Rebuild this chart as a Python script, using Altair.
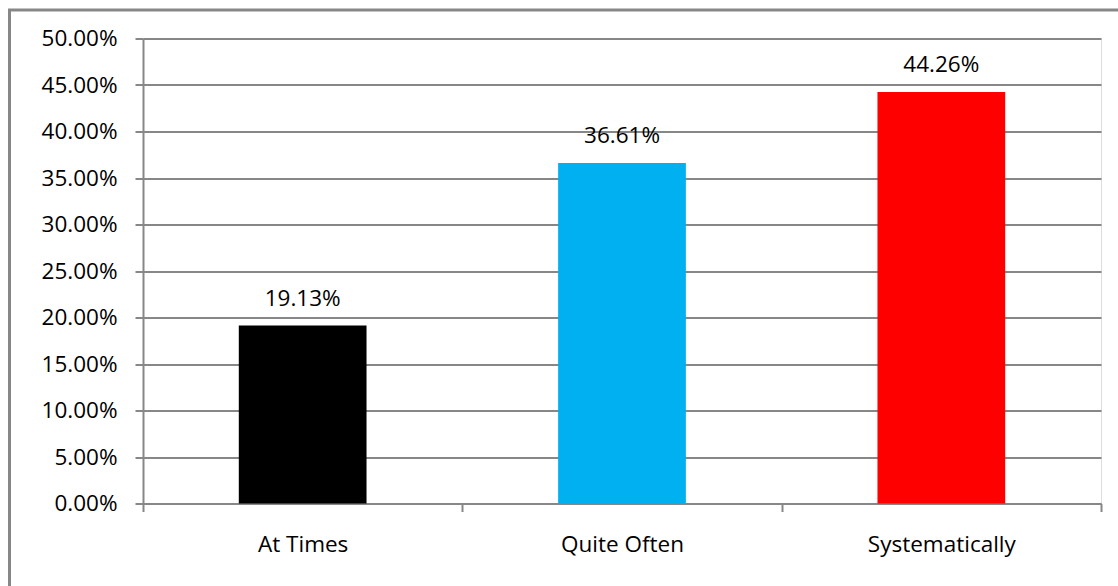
import altair as alt
import pandas as pd

categories = ["At Times", "Quite Often", "Systematically"]
values = [0.1913, 0.3661, 0.4426]
colors = ["#000000", "#00B0F0", "#FF0000"]
y_ticks = [0, 0.05, 0.10, 0.15, 0.20, 0.25, 0.30, 0.35, 0.40, 0.45, 0.50]

df = pd.DataFrame({"cat": categories, "val": values, "color": colors})

FONT = "Open Sans"
FS = 22.5
GRID = "#878787"

border = alt.Chart(pd.DataFrame({"a": [0]})).mark_rect(
    fill=None, stroke=GRID, strokeWidth=3
).encode(
    x=alt.value(-133.5), x2=alt.value(1000), y=alt.value(-28.5), y2=alt.value(700)
)

base = alt.Chart(df)

bars = base.mark_bar(width=alt.RelativeBandSize(0.4)).encode(
    x=alt.X("cat:N", sort=categories, title=None,
            scale=alt.Scale(paddingInner=0, paddingOuter=0),
            axis=alt.Axis(labelAngle=0, tickBand="extent", domainColor=GRID,
                          domainWidth=2, tickColor=GRID, tickWidth=2, tickSize=8,
                          labelFont=FONT, labelFontSize=FS, labelColor="#000000",
                          labelPadding=22)),
    y=alt.Y("val:Q", title=None,
            scale=alt.Scale(domain=[0, 0.5], nice=False),
            axis=alt.Axis(values=y_ticks, format=".2%", gridColor=GRID, gridWidth=2,
                          domainColor=GRID, domainWidth=2, tickColor=GRID,
                          tickWidth=2, tickSize=8, labelFont=FONT,
                          labelFontSize=FS, labelColor="#000000", labelPadding=18)),
    color=alt.Color("color:N", scale=None),
)

labels = base.mark_text(
    font=FONT, fontSize=FS, color="#000000", baseline="bottom", dy=-15
).encode(
    x=alt.X("cat:N", sort=categories),
    y=alt.Y("val:Q"),
    text=alt.Text("val:Q", format=".2%"),
)

chart = alt.layer(border, bars, labels).properties(
    width=958, height=465,
    autosize=alt.AutoSizeParams(type="none"),
    padding={"left": 143, "top": 38.5, "right": 17, "bottom": 82.5},
).configure_view(stroke=None).configure(background="white")

chart.save("out.html", embed_options={"renderer": "svg", "actions": False})
